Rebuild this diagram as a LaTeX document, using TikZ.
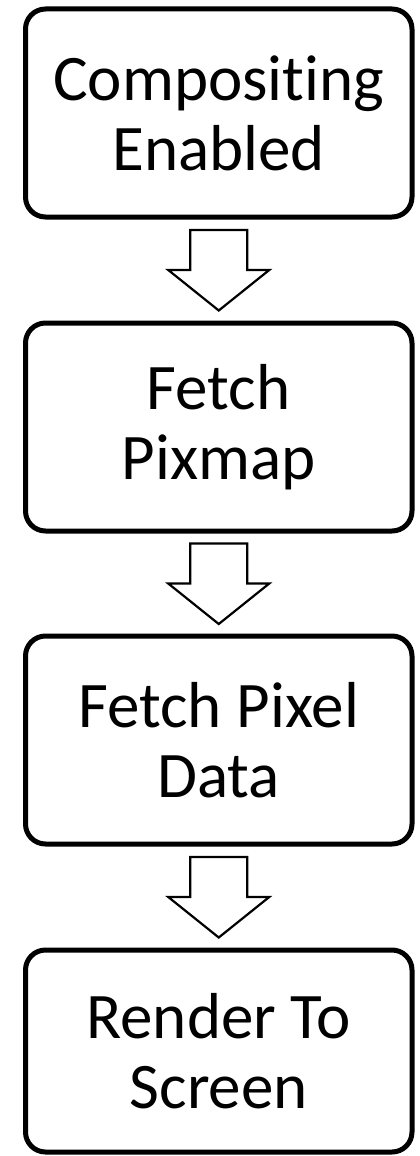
\documentclass[tikz,border=0pt]{standalone}
\usepackage{fontspec}
\setmainfont[Ligatures=NoCommon]{Carlito}
\usetikzlibrary{calc}
\newcommand{\flowarrow}[2]{\draw[flow] ($(#1.south)!0.5!(#2.north)+(0,-40.5)$)
                             -- ++(50.5,40.5) -- ++(-22,0) -- ++(0,40)
                             -- ++(-57,0) -- ++(0,-40) -- ++(-22,0) -- cycle;
                          }

\begin{document}
\begin{tikzpicture}[x=0.5pt,y=0.5pt,
  stepbox/.style={rectangle,rounded corners=10pt,draw=black,line width=2.5pt,
                  minimum width=193.25pt,minimum height=104pt,align=center,
                  outer sep=0pt,inner sep=0pt,
                  font=\fontsize{32.5pt}{35pt}\selectfont},
  flow/.style={draw=black,line width=1.1pt,fill=white,line join=miter}]
 \useasboundingbox (0,0) rectangle (419,-1156);

 \draw (218.75,-113)  node[stepbox] (A) {Compositing\\Enabled};

 \draw (218.75,-427)  node[stepbox] (B) {Fetch\\Pixmap};

 \draw (218.75,-740)  node[stepbox] (C) {Fetch Pixel\\Data};

 \draw (218.75,-1051) node[stepbox,minimum height=101pt] (D) {Render To\\Screen};

 \flowarrow{A}{B}
 \flowarrow{B}{C}
 \flowarrow{C}{D}

\end{tikzpicture}
\end{document}
